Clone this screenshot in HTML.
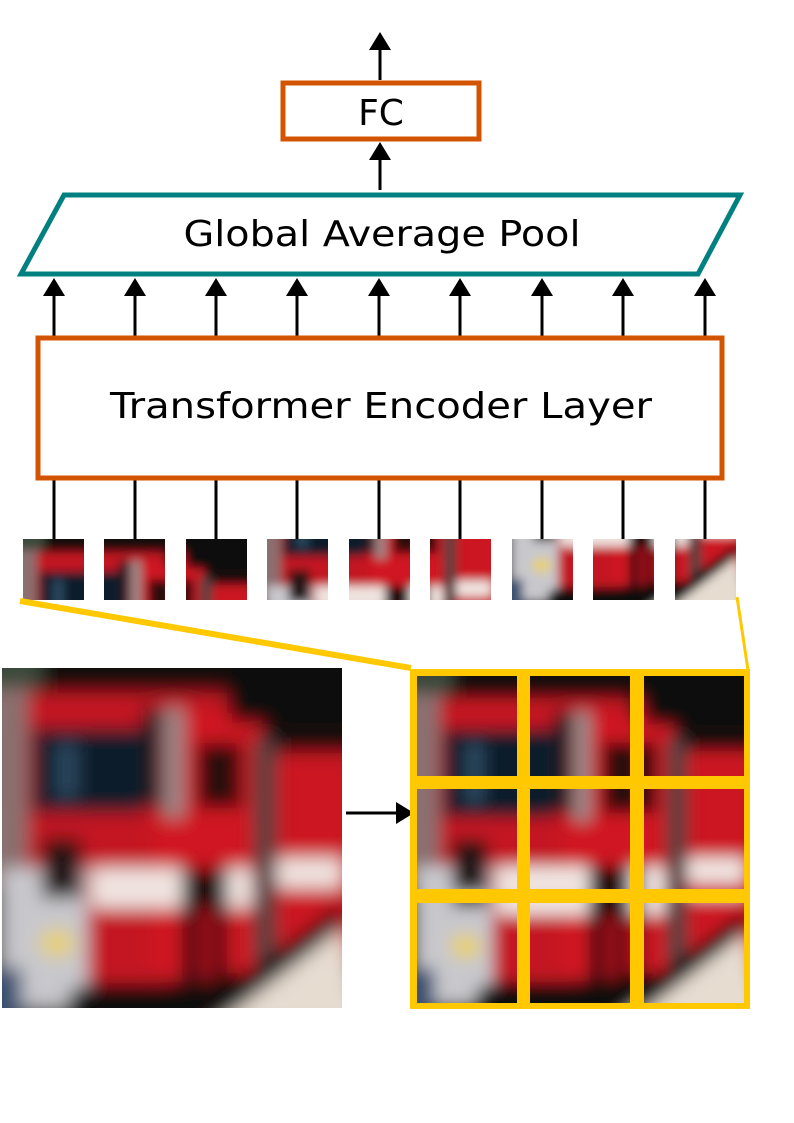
<!DOCTYPE html>
<html><head><meta charset="utf-8"><style>html,body{margin:0;padding:0;background:#fff}svg{display:block}</style></head>
<body>
<svg width="794" height="1123" viewBox="0 0 794 1123" xmlns="http://www.w3.org/2000/svg" xmlns:xlink="http://www.w3.org/1999/xlink">
<defs>
<filter id="bl" x="-5%" y="-5%" width="110%" height="110%"><feGaussianBlur stdDeviation="9"/></filter>
<clipPath id="c"><rect x="0" y="0" width="340" height="340"/></clipPath>
<g id="truck" clip-path="url(#c)">
 <rect x="0" y="0" width="340" height="340" fill="#1a1414"/>
 <g filter="url(#bl)">
  <rect x="-20" y="-20" width="380" height="380" fill="#141010"/>
  <rect x="-20" y="20" width="50" height="200" fill="#8a7070"/>
  <rect x="-20" y="-20" width="60" height="40" fill="#3a4a3a"/>
  <rect x="25" y="25" width="200" height="290" fill="#c41820"/>
  <rect x="150" y="45" width="110" height="260" fill="#d01822"/>
  <rect x="255" y="85" width="100" height="210" fill="#cc1822"/>
  <rect x="30" y="60" width="110" height="85" fill="#0e1e2c"/>
  <rect x="55" y="75" width="20" height="55" fill="#2a4860"/>
  <rect x="140" y="40" width="20" height="100" fill="#1a1a22"/>
  <rect x="162" y="40" width="20" height="110" fill="#9a8888"/>
  <rect x="195" y="75" width="45" height="65" fill="#2a0808"/>
  <rect x="252" y="70" width="22" height="230" fill="#4a4040"/>
  <rect x="90" y="200" width="160" height="40" fill="#f0e4e0"/>
  <rect x="275" y="190" width="65" height="30" fill="#f0e4e0"/>
  <rect x="0" y="200" width="85" height="140" fill="#c8c8cc"/>
  <rect x="40" y="170" width="40" height="60" fill="#201818"/>
  <ellipse cx="55" cy="275" rx="18" ry="14" fill="#e8d070"/>
  <rect x="180" y="200" width="45" height="150" fill="#201010"/>
  <rect x="195" y="240" width="18" height="80" fill="#a01018"/>
  <polygon points="70,320 240,310 340,235 340,255 250,340 60,360" fill="#100808"/>
  <polygon points="210,360 340,260 360,360" fill="#e6dcd0"/>
  <rect x="-20" y="300" width="40" height="60" fill="#3a5070"/>
  <rect x="230" y="-20" width="120" height="75" fill="#0c0c0e"/>
 </g>
</g>
</defs>

<g stroke="#000" stroke-width="3" fill="none">
 <line x1="380" y1="80" x2="380" y2="48"/>
 <line x1="380" y1="190" x2="380" y2="158"/>
</g>
<g fill="#000">
 <polygon points="380,32 369,50 391,50"/>
 <polygon points="380,142 369,160 391,160"/>
</g>
<rect x="283" y="83" width="196" height="56" fill="#fff" stroke="#d35400" stroke-width="5"/>
<text x="381" y="125" text-anchor="middle" font-family="DejaVu Sans, Liberation Sans, sans-serif" font-size="36">FC</text>

<polygon points="64,195 740,195 698,274 21,274" fill="#fff" stroke="#008080" stroke-width="5"/>
<text x="382" y="246" text-anchor="middle" font-family="DejaVu Sans, Liberation Sans, sans-serif" font-size="36" textLength="397" lengthAdjust="spacingAndGlyphs">Global Average Pool</text>

<g stroke="#000" stroke-width="3">
 <line x1="54" y1="336" x2="54" y2="292"/><line x1="135" y1="336" x2="135" y2="292"/><line x1="216" y1="336" x2="216" y2="292"/>
 <line x1="297" y1="336" x2="297" y2="292"/><line x1="379" y1="336" x2="379" y2="292"/><line x1="460" y1="336" x2="460" y2="292"/>
 <line x1="542" y1="336" x2="542" y2="292"/><line x1="623" y1="336" x2="623" y2="292"/><line x1="705" y1="336" x2="705" y2="292"/>
 <line x1="54" y1="540" x2="54" y2="480"/><line x1="135" y1="540" x2="135" y2="480"/><line x1="216" y1="540" x2="216" y2="480"/>
 <line x1="297" y1="540" x2="297" y2="480"/><line x1="379" y1="540" x2="379" y2="480"/><line x1="460" y1="540" x2="460" y2="480"/>
 <line x1="542" y1="540" x2="542" y2="480"/><line x1="623" y1="540" x2="623" y2="480"/><line x1="705" y1="540" x2="705" y2="480"/>
</g>
<g fill="#000">
 <polygon points="54,278 43,296 65,296"/><polygon points="135,278 124,296 146,296"/><polygon points="216,278 205,296 227,296"/>
 <polygon points="297,278 286,296 308,296"/><polygon points="379,278 368,296 390,296"/><polygon points="460,278 449,296 471,296"/>
 <polygon points="542,278 531,296 553,296"/><polygon points="623,278 612,296 634,296"/><polygon points="705,278 694,296 716,296"/>
</g>

<rect x="38" y="338" width="684" height="140" fill="#fff" stroke="#d35400" stroke-width="5"/>
<text x="381" y="418" text-anchor="middle" font-family="DejaVu Sans, Liberation Sans, sans-serif" font-size="36" textLength="542" lengthAdjust="spacingAndGlyphs">Transformer Encoder Layer</text>

<svg x="23" y="539" width="61" height="61" viewBox="0 0 113 113" preserveAspectRatio="none"><use xlink:href="#truck"/></svg>
<svg x="104" y="539" width="61" height="61" viewBox="113 0 113 113" preserveAspectRatio="none"><use xlink:href="#truck"/></svg>
<svg x="186" y="539" width="61" height="61" viewBox="226 0 113 113" preserveAspectRatio="none"><use xlink:href="#truck"/></svg>
<svg x="267" y="539" width="61" height="61" viewBox="0 113 113 113" preserveAspectRatio="none"><use xlink:href="#truck"/></svg>
<svg x="349" y="539" width="61" height="61" viewBox="113 113 113 113" preserveAspectRatio="none"><use xlink:href="#truck"/></svg>
<svg x="430" y="539" width="61" height="61" viewBox="226 113 113 113" preserveAspectRatio="none"><use xlink:href="#truck"/></svg>
<svg x="512" y="539" width="61" height="61" viewBox="0 226 113 113" preserveAspectRatio="none"><use xlink:href="#truck"/></svg>
<svg x="593" y="539" width="61" height="61" viewBox="113 226 113 113" preserveAspectRatio="none"><use xlink:href="#truck"/></svg>
<svg x="675" y="539" width="61" height="61" viewBox="226 226 113 113" preserveAspectRatio="none"><use xlink:href="#truck"/></svg>

<line x1="20" y1="601" x2="411" y2="668" stroke="#ffc800" stroke-width="6"/>
<line x1="737" y1="597" x2="748" y2="670" stroke="#ffc800" stroke-width="3"/>

<svg x="2" y="668" width="340" height="340" viewBox="0 0 340 340"><use xlink:href="#truck"/></svg>

<line x1="346" y1="813" x2="398" y2="813" stroke="#000" stroke-width="3"/>
<polygon points="414,813 396,802 396,824" fill="#000"/>

<rect x="410" y="669" width="340" height="340" fill="#ffc800"/>
<svg x="417" y="676" width="100" height="100" viewBox="0 0 113 113" preserveAspectRatio="none"><use xlink:href="#truck"/></svg>
<svg x="530" y="676" width="100" height="100" viewBox="113 0 113 113" preserveAspectRatio="none"><use xlink:href="#truck"/></svg>
<svg x="644" y="676" width="100" height="100" viewBox="226 0 113 113" preserveAspectRatio="none"><use xlink:href="#truck"/></svg>
<svg x="417" y="789" width="100" height="100" viewBox="0 113 113 113" preserveAspectRatio="none"><use xlink:href="#truck"/></svg>
<svg x="530" y="789" width="100" height="100" viewBox="113 113 113 113" preserveAspectRatio="none"><use xlink:href="#truck"/></svg>
<svg x="644" y="789" width="100" height="100" viewBox="226 113 113 113" preserveAspectRatio="none"><use xlink:href="#truck"/></svg>
<svg x="417" y="903" width="100" height="100" viewBox="0 226 113 113" preserveAspectRatio="none"><use xlink:href="#truck"/></svg>
<svg x="530" y="903" width="100" height="100" viewBox="113 226 113 113" preserveAspectRatio="none"><use xlink:href="#truck"/></svg>
<svg x="644" y="903" width="100" height="100" viewBox="226 226 113 113" preserveAspectRatio="none"><use xlink:href="#truck"/></svg>
</svg>
</body></html>
